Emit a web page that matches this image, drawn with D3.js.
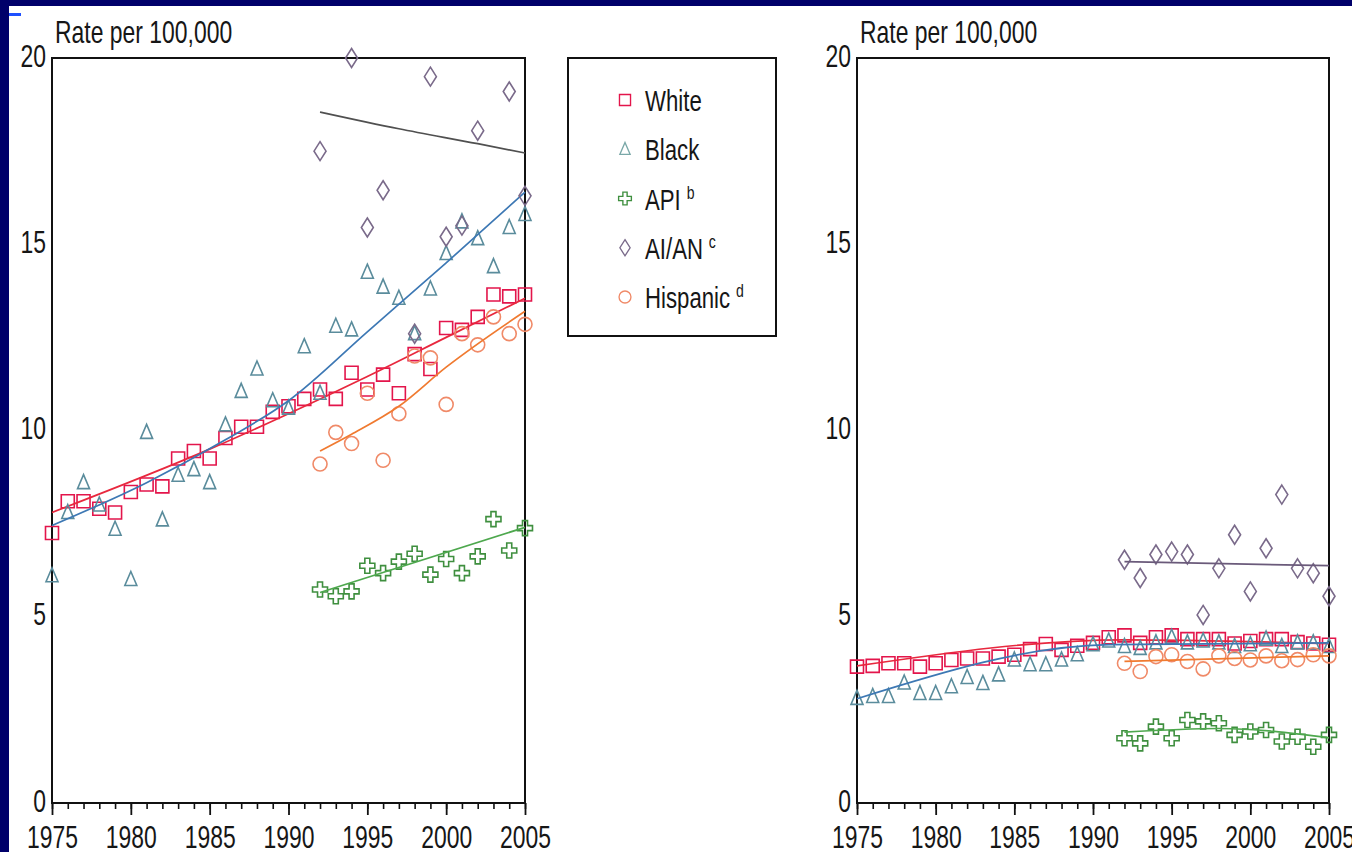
<!DOCTYPE html>
<html><head><meta charset="utf-8">
<script src="https://cdn.jsdelivr.net/npm/d3@7"></script>
<style>
body{margin:0;background:#fff;overflow:hidden}
svg{display:block}
text{font-family:"Liberation Sans",Arial,sans-serif;fill:#161616}
</style></head><body>
<svg id="c" width="1352" height="852"></svg>
<script>
// ---------- categories ----------
const yearsAll=[1975,1976,1977,1978,1979,1980,1981,1982,1983,1984,1985,1986,1987,1988,1989,1990,1991,1992,1993,1994,1995,1996,1997,1998,1999,2000,2001,2002,2003,2004,2005];
const years92=[1992,1993,1994,1995,1996,1997,1998,1999,2000,2001,2002,2003,2004,2005];
const xTickLabels=[1975,1980,1985,1990,1995,2000,2005];
const yTickLabels=[0,5,10,15,20];
const legendNames=["White","Black","API","AI/AN","Hispanic"];
const legendSup=["","","b","c","d"];

// ---------- left panel values ----------
const whiteA=[7.25,8.1,8.1,7.9,7.8,8.35,8.55,8.5,9.25,9.45,9.25,9.8,10.1,10.1,10.5,10.65,10.85,11.1,10.85,11.55,11.1,11.5,11.0,12.05,11.65,12.75,12.7,13.05,13.65,13.6,13.65];
const blackA=[6.1,7.8,8.6,8.0,7.35,6.0,9.95,7.6,8.8,8.95,8.6,10.15,11.05,11.65,10.8,10.6,12.25,11.0,12.8,12.7,14.25,13.85,13.55,12.6,13.8,14.75,15.6,15.15,14.4,15.45,15.8];
const apiA=[5.73,5.55,5.68,6.37,6.17,6.48,6.69,6.13,6.55,6.17,6.62,7.62,6.78,7.38];
const aianA=[17.5,null,20.0,15.45,16.45,null,12.6,19.5,15.2,15.5,18.05,null,19.1,16.3];
const hispA=[9.1,9.95,9.65,11.0,9.2,10.45,12.0,11.95,10.7,12.6,12.3,13.05,12.6,12.85];
// left panel fitted trends
const whiteATrendYears=[1975,1985,1990,1995,2000,2005], whiteATrend=[7.8,9.5,10.45,11.45,12.5,13.55];
const blackATrendYears=[1975,1981,1986,1990,1995,2000,2005], blackATrend=[7.45,8.6,9.75,10.8,12.65,14.5,16.4];
const apiATrendYears=[1992,2005], apiATrend=[5.65,7.4];
const aianATrendYears=[1992,1997,2002,2005], aianATrend=[18.55,18.1,17.7,17.45];
const hispATrendYears=[1992,1994,1997,2000,2005], hispATrend=[9.45,9.9,10.65,11.7,13.2];

// ---------- right panel values ----------
const whiteB=[3.66,3.68,3.75,3.75,3.66,3.75,3.84,3.88,3.88,3.93,3.98,4.13,4.27,4.11,4.22,4.3,4.45,4.5,4.3,4.45,4.5,4.4,4.4,4.4,4.28,4.35,4.4,4.4,4.32,4.28,4.25];
const blackB=[2.81,2.86,2.86,3.22,2.94,2.94,3.12,3.37,3.21,3.44,3.84,3.71,3.71,3.84,3.98,4.25,4.35,4.2,4.15,4.3,4.45,4.3,4.35,4.3,4.2,4.25,4.4,4.2,4.3,4.3,4.2];
const apiB=[1.74,1.6,2.05,1.74,2.23,2.19,2.14,1.83,1.92,1.96,1.65,1.78,1.51,1.83];
const aianB=[6.53,6.04,6.67,6.75,6.67,5.05,6.3,7.2,5.68,6.84,8.28,6.3,6.17,5.55];
const hispB=[3.75,3.53,3.93,3.98,3.8,3.6,3.95,3.88,3.84,3.95,3.82,3.85,3.98,3.95];
const whiteBTrendYears=[1975,1992,2005], whiteBTrend=[3.68,4.38,4.28];
const blackBTrendYears=[1975,1991,2005], blackBTrend=[2.8,4.25,4.3];
const apiBTrendYears=[1992,1998,2005], apiBTrend=[1.9,2.0,1.75];
const aianBTrendYears=[1992,2005], aianBTrend=[6.48,6.37];
const hispBTrendYears=[1992,2005], hispBTrend=[3.8,3.95];

// ---------- styling ----------
const COL={white:"#e3154b",black:"#5a8c9c",api:"#3f8f3f",aian:"#7a6a8a",hisp:"#f08a68"};
const LINE={white:"#e8283e",black:"#3d78b4",api:"#4ea84e",aianA:"#505050",aianB:"#6a5a7a",hisp:"#f07a30"};
const FS=31, SX=0.74;

const shapes={
  square:"M-6.5,-6.5h13v13h-13z",
  triangle:"M0,-8L6,6L-6,6Z",
  diamond:"M0,-9.5L6,0L0,9.5L-6,0Z",
  cross:"M-2.5,-7.5h5v5h5v5h-5v5h-5v-5h-5v-5h5z",
  circle:"M7,0A7,7 0 1,1 -7,0A7,7 0 1,1 7,0Z"
};

const svg=d3.select("#c");
svg.append("rect").attr("width",1352).attr("height",852).attr("fill","#fff");
// slide frame
svg.append("rect").attr("x",0).attr("y",0).attr("width",1352).attr("height",6).attr("fill","#00006a");
svg.append("rect").attr("x",0).attr("y",0).attr("width",9).attr("height",852).attr("fill","#00006a");
svg.append("rect").attr("x",9).attr("y",13).attr("width",12).attr("height",3).attr("fill","#1e50ff");

function condText(g,x,y,str,anchor){
  return g.append("text").attr("transform",`translate(${x},${y}) scale(${SX},1)`)
    .attr("text-anchor",anchor||"start").style("font-size",FS+"px").text(str);
}

function panel(x0,x1,S){
  const x=d3.scaleLinear().domain([1975,2005]).range([x0,x1]);
  const y=d3.scaleLinear().domain([0,20]).range([803,58]);
  const g=svg.append("g");

  // minor ticks
  g.append("g").attr("transform",`translate(0,${y(0)})`)
    .call(d3.axisBottom(x).tickValues(yearsAll).tickSize(6).tickFormat(""))
    .call(a=>a.select(".domain").remove())
    .selectAll("line").attr("stroke","#111").attr("stroke-width",1.6);
  // major ticks + labels
  const xa=g.append("g").attr("transform",`translate(0,${y(0)})`)
    .call(d3.axisBottom(x).tickValues(xTickLabels).tickSize(12).tickPadding(12).tickFormat(d3.format("d")));
  xa.select(".domain").remove();
  xa.selectAll("line").attr("stroke","#111").attr("stroke-width",1.8);
  xa.selectAll("text").attr("y",null).attr("dy",null)
    .attr("transform",`translate(0,45) scale(${SX},1)`)
    .style("font-size",FS+"px").attr("fill","#161616").attr("font-family",null);

  // y labels
  const ya=g.append("g").attr("transform",`translate(${x0},0)`)
    .call(d3.axisLeft(y).tickValues(yTickLabels).tickSize(0).tickFormat(d3.format("d")));
  ya.select(".domain").remove();
  ya.selectAll("text").attr("x",null).attr("dy",null)
    .attr("transform",`translate(-6,8) scale(${SX},1)`)
    .style("font-size",FS+"px").attr("fill","#161616").attr("font-family",null);

  // frame
  g.append("rect").attr("x",x0).attr("y",y(20)).attr("width",x1-x0).attr("height",y(0)-y(20))
    .attr("fill","none").attr("stroke","#111").attr("stroke-width",2);

  condText(g,x0+3,43,"Rate per 100,000");

  const line=d3.line().x(d=>x(d[0])).y(d=>y(d[1])).curve(d3.curveMonotoneX);

  S.forEach(s=>{
    const pts=s.years.map((yr,i)=>[yr,s.vals[i]]).filter(d=>d[1]!=null);
    g.append("g").selectAll("path").data(pts).join("path")
      .attr("d",shapes[s.shape])
      .attr("transform",d=>`translate(${x(d[0])},${y(d[1])})`)
      .attr("fill","none").attr("stroke",s.color).attr("stroke-width",1.6);
    const tr=s.tYears.map((yr,i)=>[yr,s.tVals[i]]);
    g.append("path").datum(tr).attr("d",line)
      .attr("fill","none").attr("stroke",s.lineColor).attr("stroke-width",1.7);
  });
}

panel(52,525,[
  {years:yearsAll,vals:whiteA,shape:"square",color:COL.white,tYears:whiteATrendYears,tVals:whiteATrend,lineColor:LINE.white},
  {years:yearsAll,vals:blackA,shape:"triangle",color:COL.black,tYears:blackATrendYears,tVals:blackATrend,lineColor:LINE.black},
  {years:years92,vals:apiA,shape:"cross",color:COL.api,tYears:apiATrendYears,tVals:apiATrend,lineColor:LINE.api},
  {years:years92,vals:aianA,shape:"diamond",color:COL.aian,tYears:aianATrendYears,tVals:aianATrend,lineColor:LINE.aianA},
  {years:years92,vals:hispA,shape:"circle",color:COL.hisp,tYears:hispATrendYears,tVals:hispATrend,lineColor:LINE.hisp}
]);
panel(857,1329,[
  {years:yearsAll,vals:whiteB,shape:"square",color:COL.white,tYears:whiteBTrendYears,tVals:whiteBTrend,lineColor:LINE.white},
  {years:yearsAll,vals:blackB,shape:"triangle",color:COL.black,tYears:blackBTrendYears,tVals:blackBTrend,lineColor:LINE.black},
  {years:years92,vals:apiB,shape:"cross",color:COL.api,tYears:apiBTrendYears,tVals:apiBTrend,lineColor:LINE.api},
  {years:years92,vals:aianB,shape:"diamond",color:COL.aian,tYears:aianBTrendYears,tVals:aianBTrend,lineColor:LINE.aianB},
  {years:years92,vals:hispB,shape:"circle",color:COL.hisp,tYears:hispBTrendYears,tVals:hispBTrend,lineColor:LINE.hisp}
]);

// legend
const lg=svg.append("g");
lg.append("rect").attr("x",568).attr("y",58).attr("width",208).attr("height",278)
  .attr("fill","#fff").attr("stroke","#111").attr("stroke-width",2);
const legShapes=["square","triangle","cross","diamond","circle"];
const legCols=[COL.white,"#7aa8a8",COL.api,COL.aian,COL.hisp];
const legY=d3.scalePoint().domain(legendNames).range([100,297]);
legendNames.forEach((n,i)=>{
  const cy=legY(n);
  lg.append("path").attr("d",shapes[legShapes[i]])
    .attr("transform",`translate(625,${cy}) scale(0.85)`)
    .attr("fill","none").attr("stroke",legCols[i]).attr("stroke-width",1.6);
  const t=lg.append("text").attr("transform",`translate(645,${cy+11}) scale(${SX},1)`)
    .style("font-size","30px").text(n);
  if(legendSup[i]){
    t.append("tspan").attr("dx",8).attr("dy",-11).style("font-size","19px").text(legendSup[i]);
  }
});
</script>
</body></html>
